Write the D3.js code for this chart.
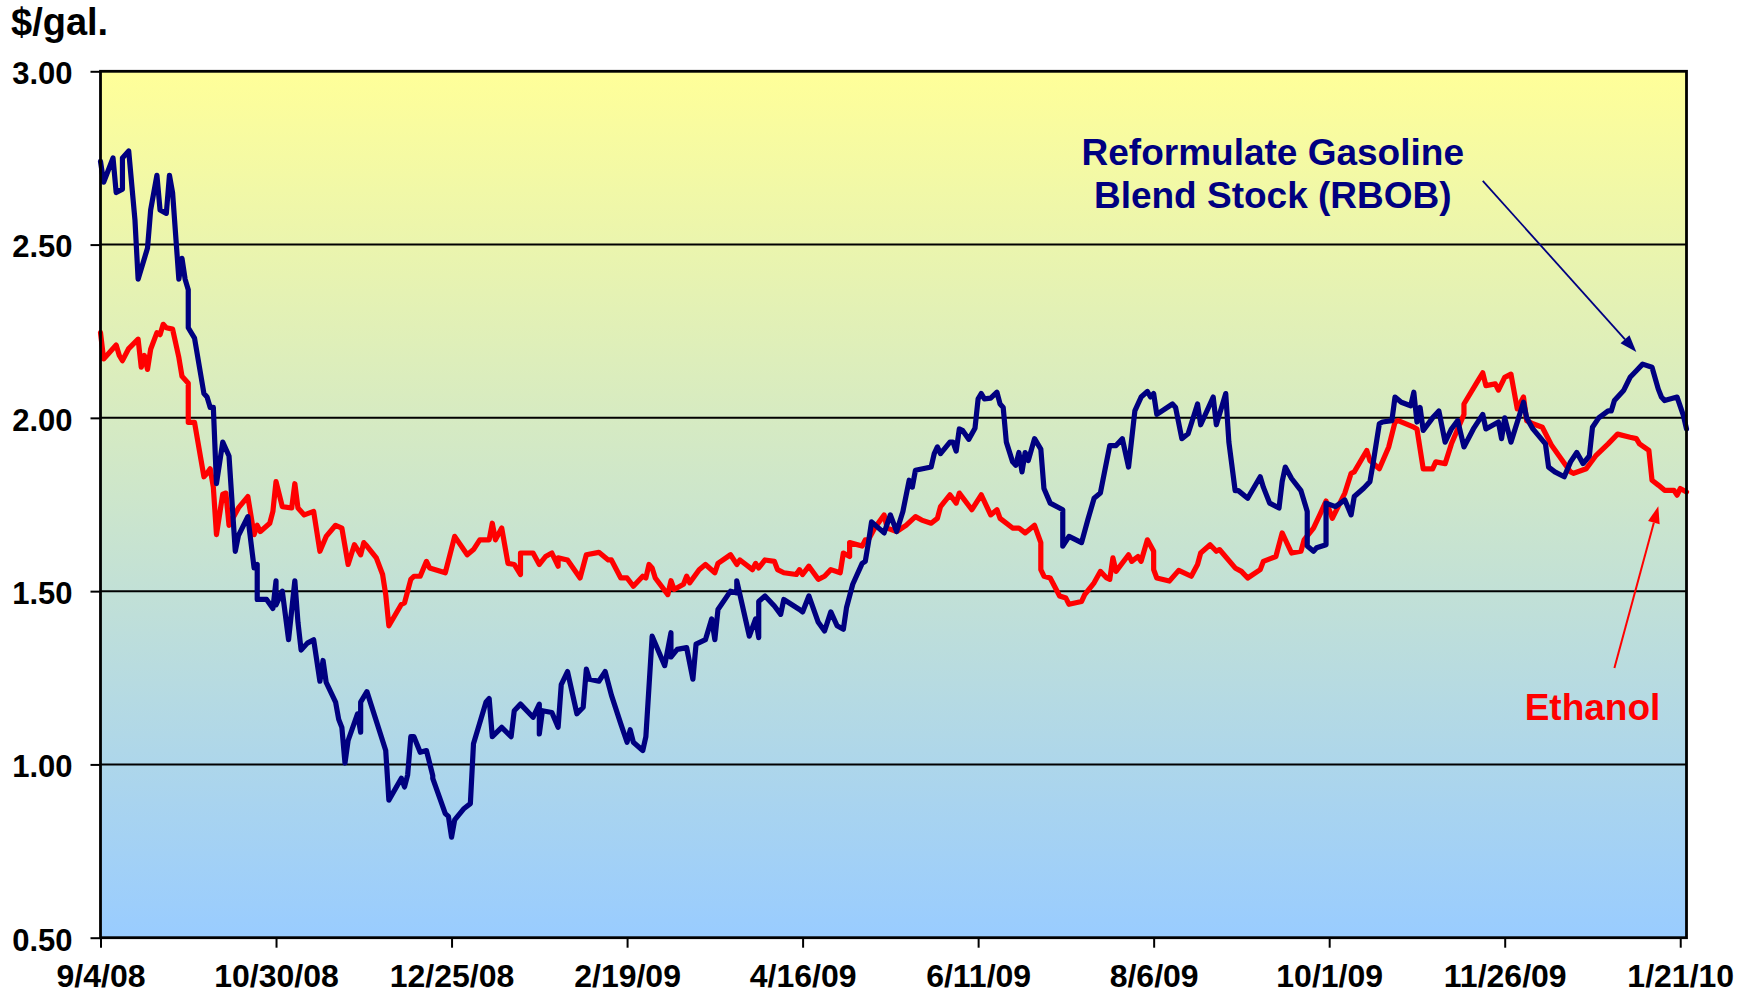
<!DOCTYPE html>
<html><head><meta charset="utf-8">
<script src="https://cdn.jsdelivr.net/npm/d3@7"></script>
<style>html,body{margin:0;padding:0;background:#fff;}svg{display:block;}</style>
</head><body><svg id="c" width="1754" height="994"></svg>
<script>
// ---- data (days since 9/4/08, $/gal) ----
const startDate = new Date(2008, 8, 4);
const tickDays = [0,56,112,168,224,280,336,392,448,504];
const tickLabels = ["9/4/08","10/30/08","12/25/08","2/19/09","4/16/09","6/11/09","8/6/09","10/1/09","11/26/09","1/21/10"];
const yTicks = [0.5,1.0,1.5,2.0,2.5,3.0];
const seriesNames = ["Reformulate Gasoline Blend Stock (RBOB)","Ethanol"];

const rbobDays = [0,1,4,5,7,7,9,11,12,15,16,18,19,21,22,23,25,26,27,28,28,30,33,34,35,36,37,39,41,43,44,47,49,50,50,53,55,56,56,58,60,62,63,64,66,68,70,71,72,75,76,77,78,79,82,83,83,85,91,92,96,97,98,99,100,102,104,106,106,110,111,112,113,116,118,119,123,124,125,128,131,132,134,138,140,140,141,144,146,147,149,152,154,155,156,159,161,163,166,168,169,170,173,174,176,180,182,182,184,187,189,190,193,195,196,197,201,203,203,207,209,210,210,212,215,217,218,223,224,226,229,231,233,235,237,238,240,243,244,245,246,250,252,254,256,258,259,260,265,266,267,268,271,272,273,274,275,277,279,280,281,282,284,286,287,288,289,291,292,293,294,295,296,298,300,301,303,307,307,309,313,315,317,319,322,324,326,328,330,332,334,335,336,337,342,343,345,347,350,351,355,356,359,360,362,363,366,370,371,373,376,377,378,380,383,385,385,387,388,391,391,394,397,399,400,403,405,406,408,409,412,413,415,418,419,420,421,422,425,427,429,431,433,435,438,441,442,446,447,448,450,454,455,457,461,462,464,467,469,471,473,475,476,478,481,482,483,486,488,490,492,495,497,498,499,503,505,506];
const rbobValues = [2.74,2.68,2.75,2.65,2.66,2.75,2.77,2.57,2.40,2.49,2.60,2.70,2.60,2.59,2.70,2.65,2.40,2.46,2.40,2.37,2.26,2.23,2.07,2.06,2.03,2.03,1.81,1.93,1.89,1.615,1.66,1.715,1.567,1.577,1.476,1.476,1.45,1.53,1.46,1.50,1.36,1.53,1.41,1.33,1.35,1.36,1.24,1.30,1.237,1.18,1.13,1.107,1.004,1.069,1.146,1.093,1.18,1.21,1.04,0.897,0.96,0.935,0.97,1.08,1.08,1.035,1.04,0.968,0.96,0.858,0.85,0.79,0.84,0.873,0.887,1.06,1.18,1.19,1.08,1.107,1.08,1.155,1.174,1.136,1.174,1.088,1.155,1.15,1.107,1.23,1.268,1.146,1.165,1.275,1.246,1.24,1.268,1.20,1.117,1.064,1.10,1.064,1.04,1.08,1.37,1.285,1.38,1.31,1.332,1.337,1.246,1.347,1.36,1.42,1.36,1.447,1.50,1.495,1.53,1.37,1.42,1.366,1.47,1.486,1.457,1.433,1.476,1.447,1.44,1.486,1.41,1.385,1.44,1.40,1.39,1.452,1.52,1.58,1.586,1.64,1.70,1.668,1.72,1.672,1.73,1.82,1.80,1.849,1.858,1.897,1.916,1.897,1.93,1.93,1.904,1.968,1.964,1.938,1.97,2.055,2.07,2.055,2.057,2.074,2.04,2.03,1.93,1.873,1.863,1.90,1.844,1.90,1.877,1.94,1.91,1.796,1.754,1.735,1.63,1.658,1.64,1.706,1.768,1.783,1.92,1.92,1.94,1.858,2.02,2.06,2.076,2.06,2.07,2.01,2.04,2.03,1.94,1.954,2.04,1.98,2.06,1.98,2.07,1.93,1.79,1.79,1.768,1.83,1.80,1.754,1.74,1.816,1.858,1.825,1.79,1.73,1.63,1.615,1.625,1.634,1.754,1.744,1.763,1.72,1.773,1.797,1.816,1.868,1.983,1.988,1.992,2.06,2.045,2.035,2.074,1.988,2.03,1.964,2.0,2.02,1.93,1.968,1.992,1.916,1.968,2.01,1.968,1.988,1.94,2.0,1.93,2.045,2.0,1.968,1.925,1.858,1.844,1.83,1.873,1.90,1.868,1.89,1.973,2.0,2.02,2.02,2.05,2.08,2.117,2.136,2.155,2.146,2.083,2.06,2.05,2.06,2.007,1.968];

const ethanolDays = [0,1,3,5,6,7,9,12,13,14,15,16,18,19,20,21,23,25,26,28,28,30,33,34,35,36,37,39,40,41,44,47,49,50,51,54,55,56,58,61,62,63,65,68,70,72,75,77,79,81,83,84,85,88,90,91,92,96,97,99,100,102,104,105,110,113,117,119,121,124,125,126,128,130,132,134,134,138,140,142,144,146,146,149,153,155,159,162,163,166,168,170,173,174,175,176,177,181,182,183,186,187,188,191,193,196,197,201,203,204,208,209,210,212,215,216,218,222,223,224,226,229,231,233,236,237,239,239,243,244,245,247,250,251,254,257,260,262,265,267,268,271,273,274,278,281,284,286,287,291,293,295,298,300,300,301,303,306,308,309,313,314,317,319,321,322,323,324,328,329,331,332,334,336,336,337,341,344,348,350,351,354,356,357,362,364,366,370,371,375,377,380,383,384,387,389,391,393,397,399,400,404,405,408,411,413,414,419,420,422,425,426,429,431,435,435,439,441,442,445,446,448,450,452,454,455,457,460,463,466,469,470,474,477,481,484,488,490,491,494,495,497,499,502,503,504,506];
const ethanolValues = [2.246,2.17,2.19,2.21,2.18,2.165,2.20,2.227,2.146,2.18,2.14,2.198,2.246,2.24,2.27,2.26,2.256,2.174,2.12,2.10,1.987,1.987,1.83,1.84,1.853,1.80,1.663,1.78,1.783,1.69,1.74,1.773,1.663,1.69,1.672,1.696,1.73,1.816,1.744,1.74,1.81,1.74,1.72,1.73,1.615,1.658,1.69,1.682,1.577,1.634,1.605,1.64,1.63,1.596,1.548,1.49,1.40,1.462,1.466,1.534,1.543,1.543,1.586,1.567,1.553,1.658,1.605,1.62,1.648,1.648,1.696,1.648,1.682,1.58,1.577,1.548,1.61,1.61,1.577,1.60,1.61,1.572,1.596,1.59,1.538,1.605,1.612,1.59,1.59,1.538,1.538,1.514,1.543,1.538,1.577,1.567,1.538,1.49,1.53,1.505,1.52,1.543,1.524,1.562,1.577,1.553,1.58,1.605,1.577,1.59,1.562,1.58,1.567,1.59,1.586,1.562,1.553,1.548,1.562,1.548,1.572,1.534,1.543,1.562,1.553,1.61,1.60,1.64,1.63,1.648,1.648,1.682,1.72,1.682,1.672,1.69,1.715,1.705,1.696,1.71,1.744,1.778,1.754,1.783,1.735,1.778,1.72,1.735,1.71,1.682,1.682,1.668,1.69,1.64,1.562,1.543,1.538,1.486,1.48,1.462,1.47,1.49,1.524,1.557,1.538,1.534,1.596,1.557,1.605,1.586,1.60,1.586,1.648,1.615,1.562,1.538,1.529,1.56,1.543,1.577,1.61,1.634,1.615,1.62,1.567,1.557,1.538,1.562,1.586,1.60,1.668,1.61,1.615,1.648,1.682,1.72,1.76,1.71,1.783,1.84,1.844,1.906,1.877,1.853,1.916,1.988,1.992,1.973,1.968,1.853,1.853,1.873,1.868,1.925,2.01,2.04,2.10,2.13,2.093,2.098,2.08,2.117,2.126,2.026,2.06,1.992,1.983,1.973,1.92,1.882,1.844,1.84,1.853,1.89,1.925,1.953,1.944,1.94,1.925,1.906,1.82,1.806,1.791,1.791,1.777,1.796,1.786];

// annotations anchored in data space: [day, value]
const rbobLabelAt = [374, 2.73];
const rbobArrow = [[441, 2.684],[490, 2.19]];
const ethLabelAt = [476, 1.128];
const ethArrow = [[483, 1.278],[497, 1.745]];

// ---- layout ----
const L = 100.5, R = 1686.5, T = 71.3, B = 937.7;
const NAVY = "#000080", RED = "#FF0000";
const FONT = "'Liberation Sans', Arial, Helvetica, sans-serif";
const svg = d3.select("#c");
const day = d => d3.timeDay.offset(startDate, d);
const x = d3.scaleTime().domain([startDate, day(506)]).range([L, R]);
const y = d3.scaleLinear().domain([0.5, 3.0]).range([B, T]);

const defs = svg.append("defs");
const grad = defs.append("linearGradient").attr("id","bg").attr("x1",0).attr("y1",0).attr("x2",0).attr("y2",1);
grad.append("stop").attr("offset","0%").attr("stop-color","#FFFF99");
grad.append("stop").attr("offset","100%").attr("stop-color","#99CCFF");

svg.append("rect").attr("x",L).attr("y",T).attr("width",R-L).attr("height",B-T).attr("fill","url(#bg)");

// gridlines
svg.append("g").selectAll("line").data(yTicks.filter(v => v>0.5 && v<3))
  .join("line").attr("x1",L).attr("x2",R).attr("y1",d=>y(d)).attr("y2",d=>y(d))
  .attr("stroke","#000").attr("stroke-width",2);

// y axis
const yAxis = svg.append("g").attr("transform",`translate(${L},0)`)
  .call(d3.axisLeft(y).tickValues(yTicks).tickSize(10).tickPadding(18).tickFormat(d3.format(".2f")));
yAxis.select(".domain").remove();
yAxis.selectAll("line").attr("stroke","#000").attr("stroke-width",2);
yAxis.selectAll("text").attr("font-family",FONT).attr("font-weight","bold").attr("font-size",31).attr("fill","#000").attr("dy","0.4em");

// x axis
const xAxis = svg.append("g").attr("transform",`translate(0,${B})`)
  .call(d3.axisBottom(x).tickValues(tickDays.map(day)).tickSize(10).tickFormat((d,i)=>tickLabels[i]));
xAxis.select(".domain").remove();
xAxis.selectAll("line").attr("stroke","#000").attr("stroke-width",2);
xAxis.selectAll("text").attr("font-family",FONT).attr("font-weight","bold").attr("font-size",32).attr("fill","#000").attr("y",49).attr("dy",0);

// lines
const line = d3.line().x(d=>x(day(d[0]))).y(d=>y(d[1])).curve(d3.curveLinear);
const ethData = ethanolDays.map((d,i)=>[d, ethanolValues[i]]);
const rbobData = rbobDays.map((d,i)=>[d, rbobValues[i]]);
svg.append("path").datum(ethData).attr("d",line).attr("fill","none").attr("stroke",RED).attr("stroke-width",5.2).attr("stroke-linejoin","round").attr("stroke-linecap","round");
svg.append("path").datum(rbobData).attr("d",line).attr("fill","none").attr("stroke",NAVY).attr("stroke-width",5.2).attr("stroke-linejoin","round").attr("stroke-linecap","round");

// plot border
svg.append("rect").attr("x",L).attr("y",T).attr("width",R-L).attr("height",B-T).attr("fill","none").attr("stroke","#000").attr("stroke-width",2.8);

// y unit label
svg.append("text").attr("x",11).attr("y",35).text("$/gal.")
  .attr("font-family",FONT).attr("font-weight","bold").attr("font-size",38).attr("fill","#000");

// annotations
function arrow(p, color, w, headLen, headW){
  const x1=x(day(p[0][0])), y1=y(p[0][1]), x2=x(day(p[1][0])), y2=y(p[1][1]);
  const a=Math.atan2(y2-y1,x2-x1);
  const bx=x2-headLen*Math.cos(a), by=y2-headLen*Math.sin(a);
  svg.append("line").attr("x1",x1).attr("y1",y1).attr("x2",bx).attr("y2",by).attr("stroke",color).attr("stroke-width",w);
  const px=-Math.sin(a)*headW/2, py=Math.cos(a)*headW/2;
  svg.append("polygon").attr("points",`${x2},${y2} ${bx+px},${by+py} ${bx-px},${by-py}`).attr("fill",color);
}
arrow(rbobArrow, NAVY, 1.8, 17, 12);
arrow(ethArrow, RED, 2, 17, 12);

const tl = svg.append("text").attr("font-family",FONT).attr("font-weight","bold").attr("font-size",37).attr("fill",NAVY).attr("text-anchor","middle");
tl.append("tspan").attr("x",x(day(rbobLabelAt[0]))).attr("y",y(rbobLabelAt[1])).text("Reformulate Gasoline");
tl.append("tspan").attr("x",x(day(rbobLabelAt[0]))).attr("y",y(rbobLabelAt[1])+43).text("Blend Stock (RBOB)");
svg.append("text").attr("x",x(day(ethLabelAt[0]))).attr("y",y(ethLabelAt[1])).attr("text-anchor","middle")
  .attr("font-family",FONT).attr("font-weight","bold").attr("font-size",37).attr("fill",RED).text("Ethanol");
</script></body></html>
